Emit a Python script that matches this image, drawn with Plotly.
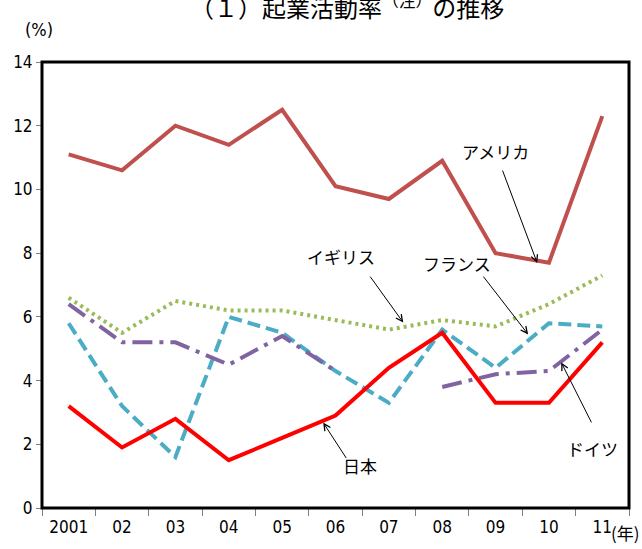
import plotly.graph_objects as go

# Start-up activity rate by country (%), 2001-2011
years = ["2001", "02", "03", "04", "05", "06", "07", "08", "09", "10", "11"]
usa = [11.1, 10.6, 12.0, 11.4, 12.5, 10.1, 9.7, 10.9, 8.0, 7.7, 12.3]
uk = [6.6, 5.5, 6.5, 6.2, 6.2, 5.9, 5.6, 5.9, 5.7, 6.4, 7.3]
france = [5.8, 3.2, 1.6, 6.0, 5.5, 4.3, 3.3, 5.6, 4.4, 5.8, 5.7]
germany = [6.4, 5.2, 5.2, 4.5, 5.4, 4.3, None, 3.8, 4.2, 4.3, 5.6]
japan = [3.2, 1.9, 2.8, 1.5, 2.2, 2.9, 4.4, 5.5, 3.3, 3.3, 5.2]
y_ticks = [0, 2, 4, 6, 8, 10, 12, 14]

NARROW = "Liberation Sans Narrow, Arial Narrow, DejaVu Sans Condensed, sans-serif"
JP = "Noto Sans CJK JP, sans-serif"

series = [
    ("アメリカ", usa, "#C0504D", "solid"),
    ("イギリス", uk, "#9BBB59", "3px,4px"),
    ("フランス", france, "#4BACC6", "13px,6px"),
    ("ドイツ", germany, "#8064A2", "20px,7px,4px,7px"),
    ("日本", japan, "#FF0000", "solid"),
]

fig = go.Figure()
for name, vals, color, dash in series:
    fig.add_trace(go.Scatter(
        x=years, y=vals, name=name, mode="lines",
        line=dict(color=color, width=4, dash=dash),
        connectgaps=False,
    ))

# Series labels with leader arrows: (text, label x, label y, tail x, tail y, head x, head y)
callouts = [
    ("アメリカ", 7.99, 11.20, 8.12, 10.64, 8.78, 7.69),
    ("イギリス", 5.10, 7.90, 5.63, 7.31, 6.27, 5.82),
    ("フランス", 7.28, 7.69, 7.75, 7.31, 8.61, 5.45),
    ("日本", 5.46, 1.34, 5.22, 1.52, 4.77, 2.68),
    ("ドイツ", 9.81, 1.87, 9.81, 2.64, 9.23, 4.57),
]
for text, lx, ly, tx, ty, hx, hy in callouts:
    fig.add_annotation(x=lx, y=ly, xref="x", yref="y", text=text, showarrow=False,
                       font=dict(family=JP, size=17, color="#000000"))
    fig.add_annotation(x=hx, y=hy, ax=tx, ay=ty, xref="x", yref="y",
                       axref="x", ayref="y", text="", showarrow=True,
                       arrowhead=5, arrowsize=1.3, arrowwidth=1, arrowcolor="#000000")

# Title (partly above the page edge), unit labels
fig.add_annotation(xref="paper", yref="paper", x=0.52, y=1 + 57 / 450, yanchor="middle",
                   text="（１）起業活動率<sup>（注）</sup>の推移", showarrow=False,
                   font=dict(family=JP, size=24, color="#000000"))
fig.add_annotation(xref="paper", yref="paper", x=-0.032, y=1 + 33 / 450, yanchor="middle",
                   text="(%)", showarrow=False,
                   font=dict(family=NARROW, size=18, color="#000000"))
fig.add_annotation(xref="x", yref="paper", x=10.44, y=-25 / 450, yanchor="middle",
                   text="(年)", showarrow=False,
                   font=dict(family=JP, size=17, color="#000000"))

# Plot frame
fig.add_shape(type="rect", xref="paper", yref="paper", x0=0, y0=0, x1=1, y1=1,
              line=dict(color="#000000", width=3), layer="above")

fig.update_layout(
    width=642, height=549,
    margin=dict(l=42, r=13, t=62, b=37),
    paper_bgcolor="#FFFFFF", plot_bgcolor="#FFFFFF",
    showlegend=False,
    font=dict(family=NARROW, size=17, color="#000000"),
)
fig.update_xaxes(
    type="category", range=[-0.5, 10.5], tickson="boundaries",
    ticks="outside", ticklen=7, tickcolor="#808080", tickwidth=1,
    showline=True, linecolor="#808080", linewidth=1, showgrid=False,
    tickfont=dict(family=NARROW, size=17), ticklabelstandoff=4,
)
fig.update_yaxes(
    range=[0, 14], tickvals=y_ticks, ticks="outside", ticklen=5,
    tickcolor="#808080", tickwidth=1, showline=True, linecolor="#808080",
    linewidth=1, showgrid=False, zeroline=False,
    tickfont=dict(family=NARROW, size=17),
)

fig.write_html("out.html")
